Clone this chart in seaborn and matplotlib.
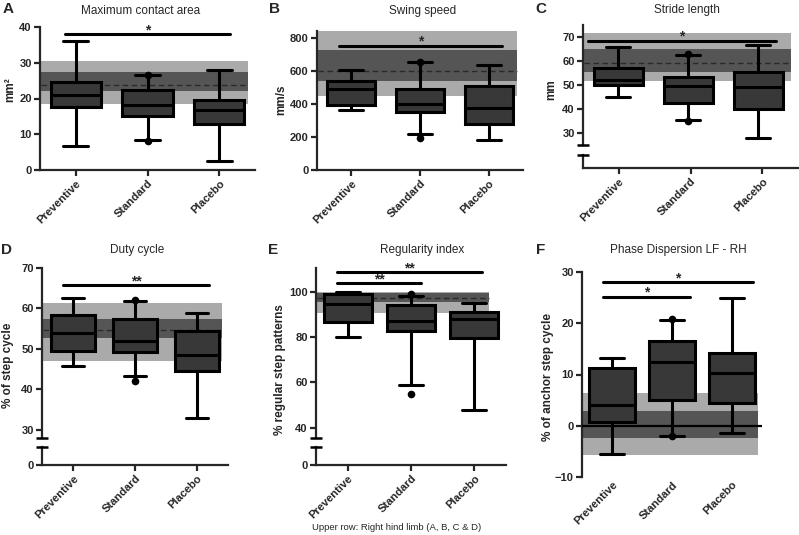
import numpy as np
import pandas as pd
import seaborn as sns
import matplotlib.pyplot as plt

groups = ["Preventive", "Standard", "Placebo"]

# box summaries per group: [whisker low, Q1, median, Q3, whisker high]
area_box = [[6.7, 17.5, 21.0, 24.7, 36.0], [8.3, 15.0, 18.3, 22.3, 26.5], [2.5, 13.0, 16.7, 19.7, 28.0]]
speed_box = [[365, 390, 488, 540, 605], [215, 350, 398, 490, 650], [180, 280, 375, 505, 635]]
stride_box = [[45.0, 50.0, 52.0, 57.0, 66.0], [35.5, 42.5, 49.5, 53.5, 62.5], [28.0, 40.0, 49.0, 55.5, 66.5]]
duty_box = [[45.8, 49.5, 54.0, 58.5, 62.5], [43.2, 49.2, 52.0, 57.5, 61.8], [33.0, 44.5, 48.5, 54.5, 59.0]]
regular_box = [[80.0, 86.5, 94.5, 99.0, 100.0], [59.0, 82.5, 87.2, 94.0, 98.0], [48.0, 79.5, 88.0, 91.0, 95.0]]
phase_box = [[-5.5, 0.7, 4.0, 11.2, 13.2], [-2.0, 5.0, 12.5, 16.6, 20.7], [-1.5, 4.5, 10.2, 14.2, 25.0]]

# single points of the Standard group
area_dots = [26.5, 8.0]
speed_dots = [655, 195]
stride_dots = [63.0, 35.0]
duty_dots = [62.2, 42.2]
regular_dots = [99.0, 55.0]
phase_dots = [20.8, -2.0]

# normal range: [outer low, inner low, mean, inner high, outer high]
area_band = [18.5, 22.0, 23.7, 27.3, 30.5]
speed_band = [450, 535, 598, 725, 840]
stride_band = [51.5, 55.5, 59.2, 65.0, 71.5]
duty_band = [47.0, 52.8, 54.8, 57.5, 61.3]
regular_band = [90.5, 95.7, 97.2, 99.3, 100.0]
phase_band = [-5.7, -2.3, 0.0, 2.8, 6.3]

# significance bars: (from, to, height, label)
area_sig = [(-0.15, 2.15, 38.0, "*")]
speed_sig = [(-0.18, 2.2, 750, "*")]
stride_sig = [(-0.43, 2.26, 68.5, "*")]
duty_sig = [(-0.16, 2.2, 65.8, "**")]
regular_sig = [(-0.17, 1.16, 103.8, "**"), (-0.17, 2.12, 108.7, "**")]
phase_sig = [(-0.15, 1.3, 25.2, "*"), (-0.15, 2.35, 28.0, "*")]

BOX = "#383838"
DARK = "#555555"
LIGHT = "#aaaaaa"
W, H = 799, 535

sns.set_style("ticks")
plt.rcParams["font.family"] = ["Liberation Sans", "DejaVu Sans"]
plt.rcParams["axes.linewidth"] = 1.6

fig = plt.figure(figsize=(W / 100, H / 100), dpi=100)


def add_ax(left, top, right, bottom):
    # axes rectangle given in pixels from the top-left corner
    return fig.add_axes([left / W, 1 - bottom / H, (right - left) / W, (bottom - top) / H])


def style_y(ax, ticks):
    ax.set_yticks(ticks)
    ax.tick_params(axis="both", direction="out", length=4, width=1.6, labelsize=8, pad=2)
    for lab in ax.get_yticklabels():
        lab.set_fontweight("bold")
    sns.despine(ax=ax)


def draw_panel(ax, box, dots, band, sig, band_end, ylim, ticks, zero_line=False, width=0.7):
    ax.axhspan(band[0], band[4], xmin=0.005, xmax=band_end, color=LIGHT, lw=0, zorder=0.5)
    ax.axhspan(band[1], band[3], xmin=0.005, xmax=band_end, color=DARK, lw=0, zorder=0.6)
    if zero_line:
        ax.axhline(band[2], color="black", lw=1.6, zorder=3)
    else:
        ax.axhline(band[2], xmin=0.005, xmax=band_end, color="#2a2a2a", lw=1.0,
                   ls=(0, (4, 2.5)), zorder=0.8)
    long = pd.DataFrame({"group": np.repeat(groups, 5), "value": np.concatenate(box)})
    sns.boxplot(data=long, x="group", y="value", order=groups, whis=(0, 100),
                color=BOX, saturation=1, linecolor="black", linewidth=2.2,
                width=width, fliersize=0, ax=ax)
    sns.stripplot(x=[groups[1]] * len(dots), y=dots, order=groups, jitter=False,
                  color="black", size=5.5, ax=ax, zorder=4)
    for x0, x1, y, lab in sig:
        ax.plot([x0, x1], [y, y], color="black", lw=2.2, clip_on=False, zorder=5)
        ax.text((x0 + x1) / 2, y, lab, ha="center", va="baseline", fontsize=10,
                fontweight="bold", clip_on=False)
    ax.set_xlim(-0.5, 2.5)
    ax.set_ylim(*ylim)
    ax.set_xlabel("")
    ax.set_ylabel("")
    style_y(ax, ticks)


def set_xlabels(ax, show_ticks=True):
    ax.set_xlim(-0.5, 2.5)
    ax.set_xticks(range(3))
    ax.set_xticklabels(groups, rotation=45, ha="right", rotation_mode="anchor",
                       fontsize=8, fontweight="bold")
    if not show_ticks:
        ax.tick_params(axis="x", length=0)


def break_mark(ax, y):
    ax.plot([0], [y], marker="_", ms=8, mew=1.8, color="black", clip_on=False,
            transform=ax.get_yaxis_transform(), zorder=6)


def cut_bottom(ax):
    # upper half of a broken axis: no x axis, a mark where the spine stops
    ax.spines["bottom"].set_visible(False)
    ax.set_xticks([])
    break_mark(ax, ax.get_ylim()[0])


def lower_axis(left, top, right, bottom, show_zero):
    lo = add_ax(left, top, right, bottom)
    lo.set_ylim(0, 1)
    sns.despine(ax=lo)
    lo.tick_params(axis="both", direction="out", length=4, width=1.6, labelsize=8, pad=2)
    if show_zero:
        lo.set_yticks([0])
        lo.set_yticklabels(["0"], fontweight="bold")
    else:
        lo.set_yticks([])
    set_xlabels(lo)
    break_mark(lo, 1)
    lo.patch.set_alpha(0)
    return lo


# A: maximum contact area
ax = add_ax(40, 27, 255, 170)
draw_panel(ax, area_box, area_dots, area_band, area_sig, 0.967, (0, 40), [0, 10, 20, 30, 40])
set_xlabels(ax)

# B: swing speed
ax = add_ax(317, 31, 523, 170)
draw_panel(ax, speed_box, speed_dots, speed_band, speed_sig, 0.97, (0, 840), [0, 200, 400, 600, 800])
set_xlabels(ax)

# C: stride length (broken axis)
ax = add_ax(583, 25, 793, 145)
draw_panel(ax, stride_box, stride_dots, stride_band, stride_sig, 0.99, (25, 75), [30, 40, 50, 60, 70])
cut_bottom(ax)
lower_axis(583, 155, 798, 168, False)

# D: duty cycle (broken axis)
ax = add_ax(42, 268, 228, 438)
draw_panel(ax, duty_box, duty_dots, duty_band, duty_sig, 0.97, (28, 70), [30, 40, 50, 60, 70])
cut_bottom(ax)
lower_axis(42, 447, 228, 465, True)

# E: regularity index (broken axis)
ax = add_ax(316, 268, 506, 438)
draw_panel(ax, regular_box, regular_dots, regular_band, regular_sig, 0.91, (35.5, 110.5),
           [40, 60, 80, 100], width=0.76)
cut_bottom(ax)
lower_axis(316, 447, 506, 465, True)

# F: phase dispersion
ax = add_ax(582, 272, 762, 477)
draw_panel(ax, phase_box, phase_dots, phase_band, phase_sig, 0.98, (-10, 30),
           [-10, 0, 10, 20, 30], zero_line=True, width=0.78)
ax.spines["bottom"].set_visible(False)
set_xlabels(ax, show_ticks=False)


def fig_text(x, y, s, **kw):
    fig.text(x / W, 1 - y / H, s, ha="center", va="center", **kw)


titles = ["Maximum contact area", "Swing speed", "Stride length",
          "Duty cycle", "Regularity index", "Phase Dispersion LF - RH"]
title_pos = [(141, 11), (423, 11), (687, 10), (137, 250), (422, 250), (678, 250)]
for t, (x, y) in zip(titles, title_pos):
    fig_text(x, y, t, fontsize=8.5)

letters = ["A", "B", "C", "D", "E", "F"]
letter_pos = [(8, 9), (274, 9), (541, 9), (7, 250), (273, 250), (541, 250)]
for t, (x, y) in zip(letters, letter_pos):
    fig_text(x, y, t, fontsize=11, fontweight="bold")

ylabels = ["mm²", "mm/s", "mm", "% of step cycle", "% regular step patterns", "% of anchor step cycle"]
ylabel_pos = [(10, 90), (281, 100), (551, 90), (8, 365), (280, 370), (548, 377)]
for t, (x, y) in zip(ylabels, ylabel_pos):
    fig_text(x, y, t, fontsize=8.5, fontweight="bold", rotation=90)

fig_text(397, 528, "Upper row: Right hind limb (A, B, C & D)", fontsize=6.8)

fig.savefig("out.png", dpi=100)
